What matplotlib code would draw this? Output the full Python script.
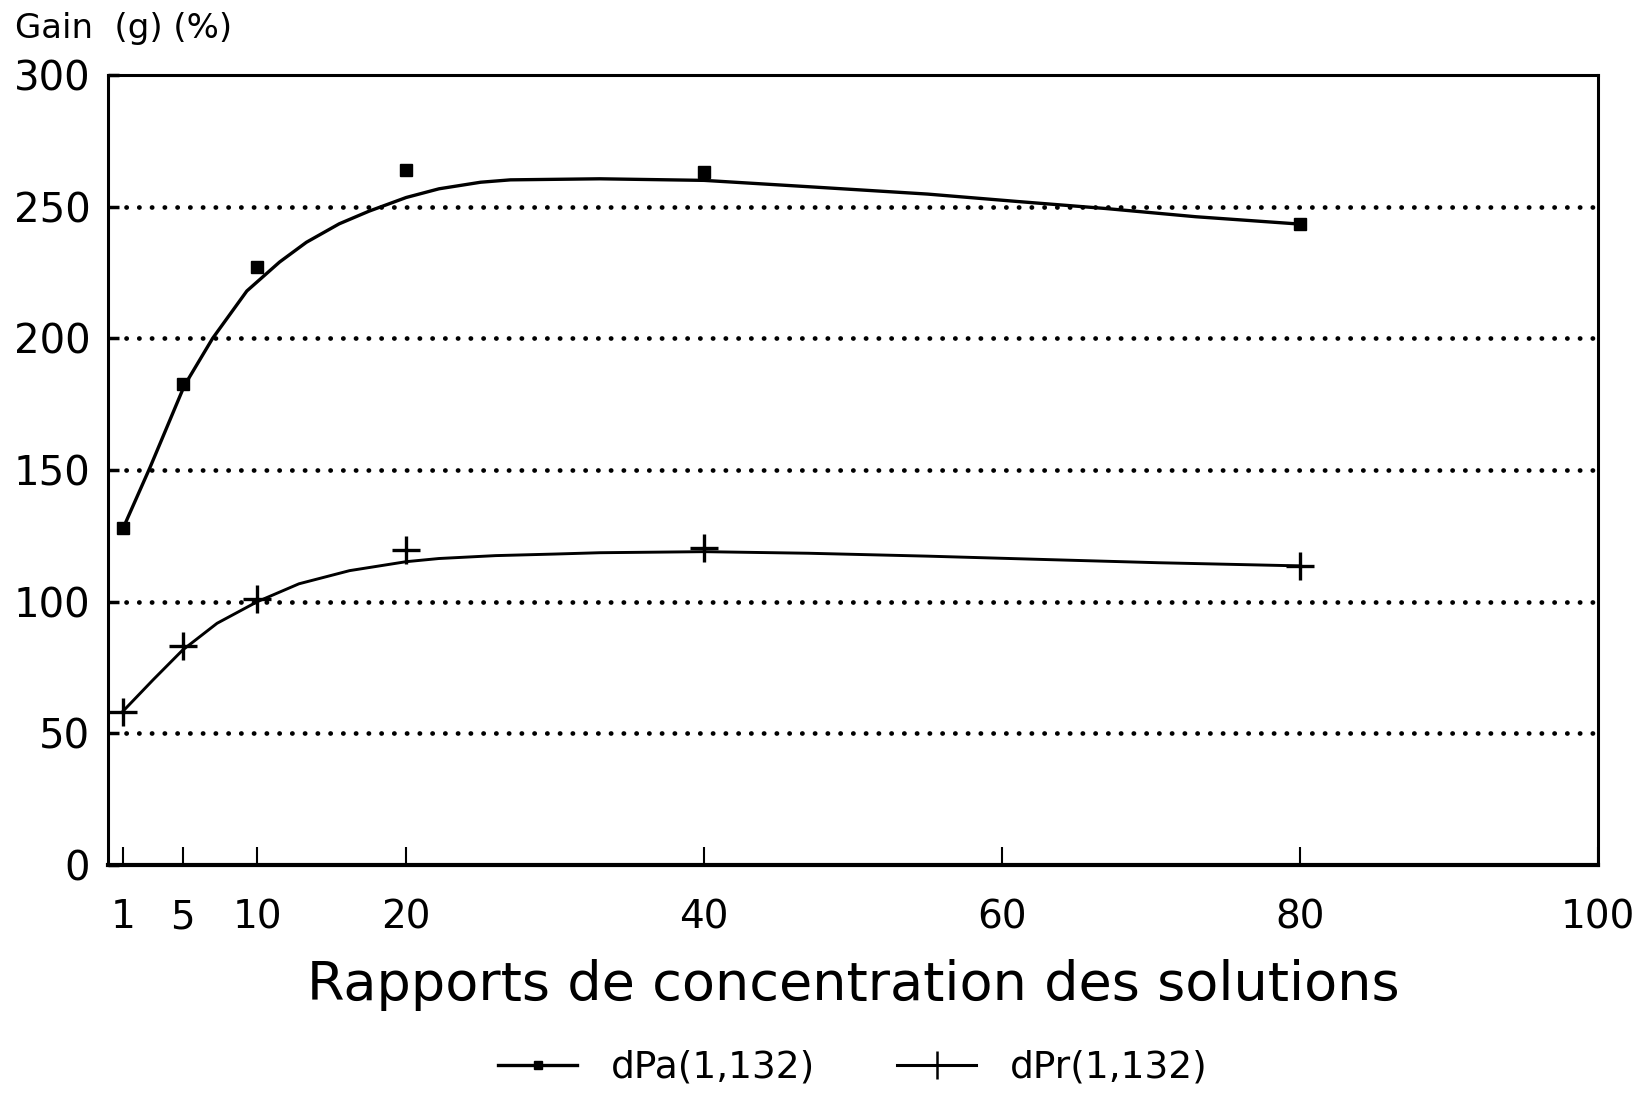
import matplotlib
matplotlib.use("Agg")
import matplotlib.pyplot as plt
from matplotlib.lines import Line2D

# measured points
rapports = [1, 5, 10, 20, 40, 80]
gain_dpa = [128, 182.5, 227, 264, 263, 243.3]
gain_dpr = [58, 83, 101, 119.5, 120.5, 113.7]

# fitted curves as traced on the original figure
fit_x_dpa = [1, 2.8, 5.1, 7.0, 9.3, 11.5, 13.3, 15.5, 17.5, 20, 22.2, 25, 27,
             33, 40, 47, 55, 61, 67, 73, 80]
fit_dpa = [128, 151, 182, 200, 218, 229, 236.5, 243.5, 248.3, 253.5, 256.8, 259.3,
           260.2, 260.6, 260, 257.6, 254.8, 252, 249.3, 246.2, 243.4]
fit_x_dpr = [1, 3, 5, 7.3, 10, 12.8, 16.2, 20, 22.2, 26, 30, 33, 40, 47, 55,
             63, 70.5, 80]
fit_dpr = [58.5, 70.3, 81.7, 91.8, 100, 106.8, 111.8, 115.2, 116.4, 117.5, 118.1,
           118.6, 119, 118.4, 117.3, 116, 114.8, 113.6]

xticks = [1, 5, 10, 20, 40, 60, 80, 100]
yticks = [0, 50, 100, 150, 200, 250, 300]
grid_levels = [50, 100, 150, 200, 250]

fig = plt.figure(figsize=(16.34, 10.94), dpi=100)
ax = fig.add_axes([0.0663, 0.2093, 0.9115, 0.7221])

# dotted horizontal grid
for g in grid_levels:
    ax.axhline(g, xmin=0.012, color="black", lw=3.4, linestyle=(0, (0.05, 2.65)),
               dash_capstyle="round", zorder=1)

ax.plot(fit_x_dpa, fit_dpa, color="black", lw=2.4, zorder=2)
ax.plot(fit_x_dpr, fit_dpr, color="black", lw=2.1, zorder=2)
ax.plot(rapports, gain_dpa, linestyle="none", marker="s", ms=8.5, color="black", zorder=3)
ax.plot(rapports, gain_dpr, linestyle="none", marker="+", ms=20, mew=2.4,
        color="black", zorder=3)

ax.set_xlim(0, 100)
ax.set_ylim(0, 300)
ax.set_xticks(xticks)
ax.set_yticks(yticks)
ax.tick_params(axis="x", direction="in", length=13, width=1.5, pad=24, labelsize=28)
ax.tick_params(axis="y", direction="in", length=8, width=2.5, pad=13, labelsize=29)
for s in ax.spines.values():
    s.set_linewidth(2.2)
ax.spines["bottom"].set_linewidth(3)

ax.set_xlabel("Rapports de concentration des solutions", fontsize=39, labelpad=16)
fig.text(0.009, 0.9735, "Gain  (g) (%)", fontsize=24.5, ha="left", va="center")

handles = [
    Line2D([], [], color="black", lw=2.4, marker="s", ms=6),
    Line2D([], [], color="black", lw=2.2, marker="+", ms=20, mew=1.8),
]
fig.legend(handles, ["dPa(1,132)", "dPr(1,132)"], loc="center",
           bbox_to_anchor=(0.522, 0.024), ncol=2, frameon=False, fontsize=27,
           handlelength=2.1, handletextpad=0.9, columnspacing=2.2)

fig.savefig("out.png", dpi=100)
